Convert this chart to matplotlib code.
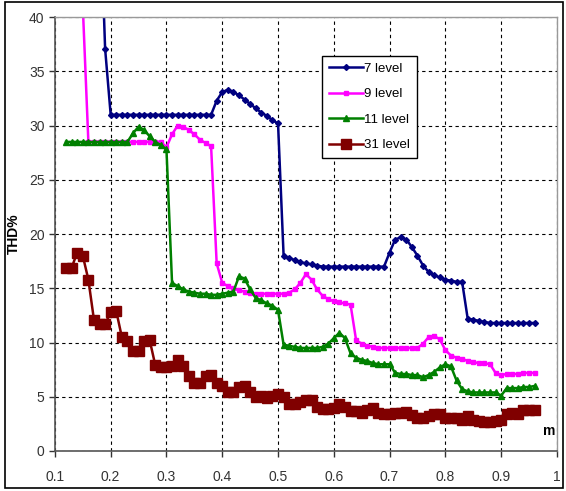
import numpy as np
import matplotlib
matplotlib.use('Agg')
import matplotlib.pyplot as plt
import matplotlib.patches as patches

plt.rcParams['font.family'] = ['Liberation Sans', 'DejaVu Sans']

# modulation index m, step 0.01
m7 = np.round(np.arange(0.18, 0.965, 0.01), 2)
m9 = np.round(np.arange(0.14, 0.965, 0.01), 2)
m11 = np.round(np.arange(0.12, 0.965, 0.01), 2)
m31 = np.round(np.arange(0.12, 0.965, 0.01), 2)

thd7 = [52, 37.1] + [31.0] * 19 + \
       [32.3, 33.1, 33.3, 33.1, 32.8, 32.4, 32.0, 31.6, 31.2, 30.9, 30.5, 30.2,
        18.0, 17.8, 17.6, 17.4, 17.3, 17.2, 17.1, 17.0] + [17.0] * 11 + \
       [18.3, 19.5, 19.7, 19.5, 18.8, 18.0, 17.1, 16.5, 16.2, 16.0, 15.8, 15.7, 15.6, 15.6,
        12.2, 12.1, 12.0, 11.9] + [11.8] * 9

thd9 = [60, 41] + [28.5] * 14 + \
       [28.0, 29.2, 30.0, 29.9, 29.6, 29.2, 28.7, 28.4, 28.1,
        17.3, 15.5, 15.2, 15.0, 14.8, 14.7, 14.6, 14.5, 14.5, 14.5, 14.5, 14.5, 14.5,
        14.6, 14.9, 15.5, 16.3, 15.8, 14.9, 14.3, 14.0, 13.8, 13.7, 13.6, 13.5,
        10.2, 9.9, 9.7, 9.6] + [9.5] * 8 + \
       [9.9, 10.5, 10.6, 10.3, 9.3, 8.8, 8.6, 8.5, 8.3, 8.2, 8.1, 8.1, 8.0,
        7.2, 7.0, 7.1, 7.1, 7.1, 7.2, 7.2, 7.2]

thd11 = [28.5] * 12 + \
        [29.3, 29.9, 29.6, 29.0, 28.5, 28.2, 27.8,
         15.5, 15.2, 14.9, 14.7, 14.6, 14.5, 14.5, 14.4, 14.4, 14.5, 14.6, 14.7,
         16.1, 15.9, 14.9, 14.1, 13.9, 13.6, 13.4, 13.0,
         9.8, 9.7, 9.6, 9.5, 9.5, 9.5, 9.5, 9.6, 9.9, 10.4, 10.9, 10.4,
         9.0, 8.6, 8.4, 8.3, 8.1, 8.0, 8.0, 8.0,
         7.2, 7.1, 7.1, 7.0, 7.0, 6.8, 7.0, 7.3, 7.7, 8.0, 7.8,
         6.5, 5.7, 5.5, 5.4, 5.4, 5.4, 5.4, 5.4, 5.1,
         5.8, 5.8, 5.8, 5.9, 5.9, 6.0]

thd31 = [16.9, 16.9, 18.3, 18.0, 15.8, 12.1, 11.7, 11.7, 12.8, 12.9,
         10.5, 10.1, 9.2, 9.2, 10.1, 10.2, 7.9, 7.7, 7.7, 7.8,
         8.4, 7.8, 6.9, 6.3, 6.3, 6.9, 7.0, 6.3, 6.0, 5.4,
         5.4, 5.9, 6.0, 5.4, 5.0, 5.1, 4.9, 5.1, 5.3, 5.0,
         4.3, 4.3, 4.5, 4.7, 4.7, 4.1, 3.9, 3.9, 4.0, 4.3,
         4.1, 3.7, 3.7, 3.5, 3.8, 4.0, 3.5, 3.4, 3.4, 3.5,
         3.5, 3.6, 3.3, 3.0, 3.0, 3.2, 3.4, 3.4, 3.0, 3.0,
         3.0, 2.9, 3.2, 2.9, 2.8, 2.7, 2.7, 2.8, 2.9, 3.4,
         3.5, 3.4, 3.8, 3.8, 3.8]

labels = ['7 level', '9 level', '11 level', '31 level']
colors = ['#000080', '#FF00FF', '#008000', '#800000']
markers = ['D', 's', '^', 's']
msizes = [3, 3.5, 5, 6.5]

fig = plt.figure(figsize=(5.66, 4.91), dpi=100)
ax = fig.add_axes([0.097, 0.0815, 0.887, 0.8835])

series = [(m7, thd7), (m9, thd9), (m11, thd11), (m31, thd31)]
for i, (xs, ys) in enumerate(series):
    ax.plot(xs, ys, color=colors[i], marker=markers[i], markersize=msizes[i],
            linewidth=1.8, label=labels[i])

ax.set_xlim(0.1, 1.0)
ax.set_ylim(0, 40)
ax.set_xticks(np.arange(0.1, 1.01, 0.1))
ax.set_xticklabels(['0.1', '0.2', '0.3', '0.4', '0.5', '0.6', '0.7', '0.8', '0.9', '1'])
ax.set_yticks(np.arange(0, 41, 5))
ax.tick_params(labelsize=10, colors='#333333', length=4, width=1, direction='out')
ax.tick_params(axis='x', pad=10)
ax.grid(True, color='black', linestyle=(0, (3, 3)), linewidth=0.8)
ax.set_axisbelow(True)

for s in ['top', 'right']:
    ax.spines[s].set_color('#999999')
    ax.spines[s].set_linewidth(1)
for s in ['left', 'bottom']:
    ax.spines[s].set_color('#555555')
    ax.spines[s].set_linewidth(1.2)

ax.set_ylabel('THD%', fontsize=10, fontweight='bold', labelpad=6)
ax.text(0.985, 0.045, 'm', transform=ax.transAxes, fontsize=10, fontweight='bold',
        ha='center', va='center')

leg = ax.legend(loc='upper left', bbox_to_anchor=(0.532, 0.91), fontsize=9.5,
                fancybox=False, framealpha=1, edgecolor='black', handlelength=2.6,
                borderpad=0.5, labelspacing=1.0, handletextpad=0.1, borderaxespad=0)
leg.get_frame().set_linewidth(1)

fig.patches.append(patches.Rectangle((0.009, 0.006), 0.985, 0.99, transform=fig.transFigure,
                                     fill=False, edgecolor='black', linewidth=1.2))

fig.savefig('out.png', dpi=100)
